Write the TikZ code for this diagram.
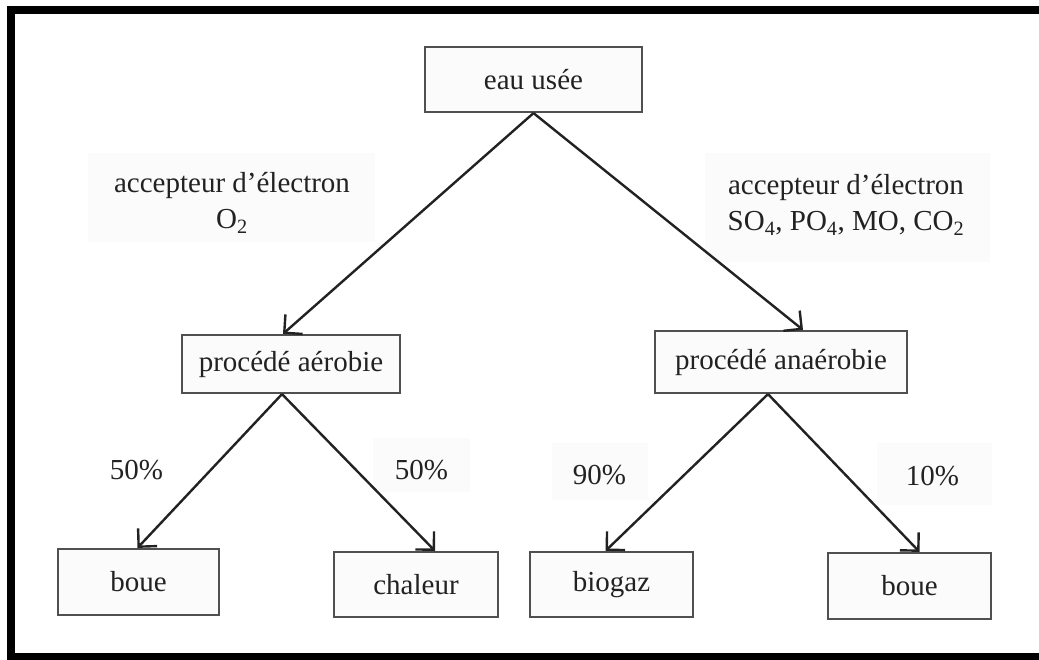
\documentclass[tikz,border=0pt]{standalone}
\usepackage{fontspec}
\setmainfont{Liberation Serif}
\usetikzlibrary{arrows.meta}
\definecolor{boxline}{HTML}{505050}
\definecolor{arrline}{HTML}{222222}
\definecolor{txt}{HTML}{222222}
\definecolor{faint}{HTML}{FBFBFB}
\begin{document}
\begin{tikzpicture}[x=1pt,y=-1pt,
  box/.style={draw=boxline,line width=2.2pt,fill=white!98.5!black,inner sep=0pt,
    font=\fontsize{29}{34}\selectfont,text=txt},
  lbl/.style={inner sep=0pt,font=\fontsize{29}{36}\selectfont,text=txt,align=center},
  arr/.style={draw=arrline,line width=2.4pt,-{Straight Barb[length=13pt,width=26pt,line width=2.4pt]}}]
\useasboundingbox (0,0) rectangle (1039,659);
\clip (0,0) rectangle (1039,659);
\fill[white] (0,0) rectangle (1039,659);
% faint label backgrounds
\fill[faint] (88,153) rectangle (375,242);
\fill[faint] (705,153) rectangle (990,262);
\fill[faint] (373,438) rectangle (470,492);
\fill[faint] (552,443) rectangle (648,500);
\fill[faint] (877,443) rectangle (992,505);
% outer frame
\draw[line width=8pt] (11,10) rectangle (1045,657);
% boxes
\node[box,minimum width=217pt,minimum height=65pt] (eau) at (533.5,79.5) {eau usée};
\node[box,minimum width=218pt,minimum height=58pt] (aer) at (291,364) {procédé aérobie};
\node[box,minimum width=252pt,minimum height=62pt] (ana) at (781,362) {procédé anaérobie};
\node[box,minimum width=161pt,minimum height=66pt] (boue1) at (138.5,582) {boue};
\node[box,minimum width=164pt,minimum height=65pt] (chal) at (416,584.5) {chaleur};
\node[box,minimum width=163pt,minimum height=65pt] (bio) at (611.5,584.5) {biogaz};
\node[box,minimum width=163pt,minimum height=66pt] (boue2) at (909.5,586) {boue};
% labels
\node[lbl] (la) at (232,203) {accepteur d’électron\\O\textsubscript{2}};
\node[lbl] (lb) at (846,205) {accepteur d’électron\\SO\textsubscript{4}, PO\textsubscript{4}, MO, CO\textsubscript{2}};
\node[lbl] (p1) at (136.5,470) {50\%};
\node[lbl] (p2) at (421.5,470) {50\%};
\node[lbl] (p3) at (599.5,475) {90\%};
\node[lbl] (p4) at (932.5,476) {10\%};
% connectors
\draw[arr] (eau.south) -- ([xshift=-8pt]aer.north);
\draw[arr] (eau.south) -- ([xshift=22pt]ana.north);
\draw[arr] ([xshift=-9pt]aer.south) -- ([xshift=-1pt]boue1.north);
\draw[arr] ([xshift=-9pt]aer.south) -- ([xshift=19pt]chal.north);
\draw[arr] ([xshift=-13pt]ana.south) -- ([xshift=-6pt]bio.north);
\draw[arr] ([xshift=-13pt]ana.south) -- ([xshift=10pt]boue2.north);
\end{tikzpicture}
\end{document}
